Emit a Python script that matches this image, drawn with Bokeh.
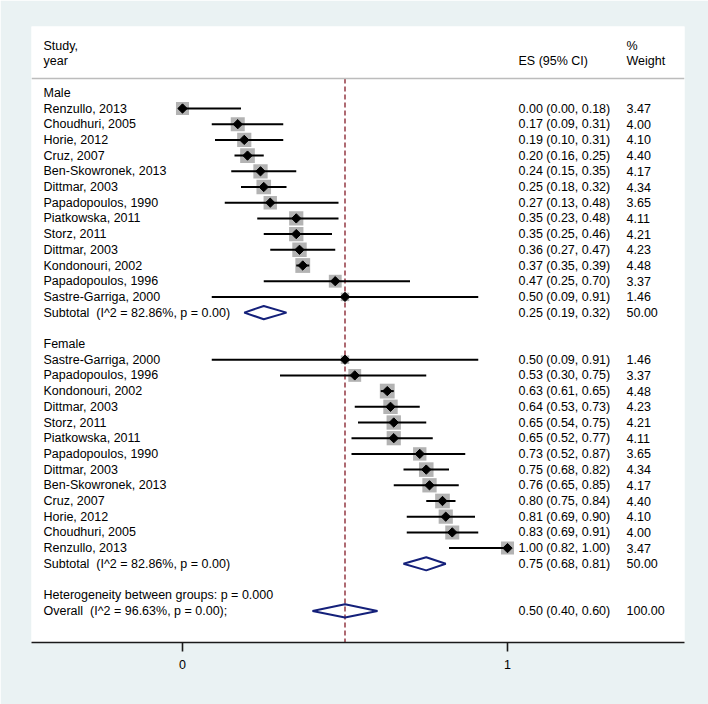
import numpy as np
from bokeh.plotting import figure
from bokeh.models import Range1d, FixedTicker, Span, ColumnDataSource
from bokeh.core.properties import value
from bokeh.embed import file_html
from bokeh.resources import INLINE

# ---------------- data ----------------
male_studies = ["Renzullo, 2013", "Choudhuri, 2005", "Horie, 2012", "Cruz, 2007",
                "Ben-Skowronek, 2013", "Dittmar, 2003", "Papadopoulos, 1990",
                "Piatkowska, 2011", "Storz, 2011", "Dittmar, 2003",
                "Kondonouri, 2002", "Papadopoulos, 1996", "Sastre-Garriga, 2000"]
male_es = [0.00, 0.17, 0.19, 0.20, 0.24, 0.25, 0.27, 0.35, 0.35, 0.36, 0.37, 0.47, 0.50]
male_lo = [0.00, 0.09, 0.10, 0.16, 0.15, 0.18, 0.13, 0.23, 0.25, 0.27, 0.35, 0.25, 0.09]
male_hi = [0.18, 0.31, 0.31, 0.25, 0.35, 0.32, 0.48, 0.48, 0.46, 0.47, 0.39, 0.70, 0.91]
male_w = [3.47, 4.00, 4.10, 4.40, 4.17, 4.34, 3.65, 4.11, 4.21, 4.23, 4.48, 3.37, 1.46]
male_sub = (0.25, 0.19, 0.32, 50.00)
male_sub_label = "Subtotal\u00a0 (I^2 = 82.86%, p = 0.00)"

female_studies = ["Sastre-Garriga, 2000", "Papadopoulos, 1996", "Kondonouri, 2002",
                  "Dittmar, 2003", "Storz, 2011", "Piatkowska, 2011",
                  "Papadopoulos, 1990", "Dittmar, 2003", "Ben-Skowronek, 2013",
                  "Cruz, 2007", "Horie, 2012", "Choudhuri, 2005", "Renzullo, 2013"]
female_es = [0.50, 0.53, 0.63, 0.64, 0.65, 0.65, 0.73, 0.75, 0.76, 0.80, 0.81, 0.83, 1.00]
female_lo = [0.09, 0.30, 0.61, 0.53, 0.54, 0.52, 0.52, 0.68, 0.65, 0.75, 0.69, 0.69, 0.82]
female_hi = [0.91, 0.75, 0.65, 0.73, 0.75, 0.77, 0.87, 0.82, 0.85, 0.84, 0.90, 0.91, 1.00]
female_w = [1.46, 3.37, 4.48, 4.23, 4.21, 4.11, 3.65, 4.34, 4.17, 4.40, 4.10, 4.00, 3.47]
female_sub = (0.75, 0.68, 0.81, 50.00)
female_sub_label = "Subtotal\u00a0 (I^2 = 82.86%, p = 0.00)"

overall = (0.50, 0.40, 0.60, 100.00)
overall_label = "Overall\u00a0 (I^2 = 96.63%, p = 0.00);"
hetero_label = "Heterogeneity between groups: p = 0.000"
x_ticks = [0, 1]

# ---------------- layout helpers ----------------
BG = "#eaf2f3"
NAVY = "#14207a"
FONT = value("Liberation Sans")
FS = "12.5px"
W, H = 708, 704

X0_PX, X1_PX = 182.0, 507.0          # page px of x=0 and x=1
LEFT_PX, RIGHT_PX = 31.0, 684.0      # frame edges on page
def px2x(px):
    return (px - X0_PX) / (X1_PX - X0_PX)

ROW0_PX, ROW_H = 108.0, 15.7         # page y of row 0 and row pitch
TOP_PX, BOT_PX = 26.0, 642.0
def py2row(py):
    return (py - ROW0_PX) / ROW_H

p = figure(width=W, height=H, output_backend="svg", toolbar_location=None,
           x_range=Range1d(px2x(LEFT_PX), px2x(RIGHT_PX)),
           y_range=Range1d(py2row(BOT_PX), py2row(TOP_PX)),
           y_axis_location=None,
           min_border_left=int(LEFT_PX), min_border_right=W - int(RIGHT_PX),
           min_border_top=int(TOP_PX), min_border_bottom=H - int(BOT_PX))
p.background_fill_color = "white"
p.border_fill_color = BG
p.outline_line_color = None
p.xgrid.visible = False
p.ygrid.visible = False

ax = p.xaxis[0]
ax.ticker = FixedTicker(ticks=x_ticks)
ax.axis_line_color = "#1a1a1a"
ax.axis_line_width = 1.6
ax.major_tick_line_color = "#1a1a1a"
ax.major_tick_line_width = 1.6
ax.major_tick_out = 9
ax.major_tick_in = 0
ax.minor_tick_out = 0
ax.minor_tick_in = 0
ax.major_label_standoff = 8
ax.major_label_text_font = "Liberation Sans"
ax.major_label_text_font_size = FS
ax.major_label_text_color = "black"

# ---------------- rows ----------------
study_rows = []  # (row, name, es, lo, hi, w)
label_rows = []  # (row, text)
sub_rows = []    # (row, label, es, lo, hi, w)

label_rows.append((-1, "Male"))
for k in range(len(male_studies)):
    study_rows.append((k, male_studies[k], male_es[k], male_lo[k], male_hi[k], male_w[k]))
r = len(male_studies)
sub_rows.append((r, male_sub_label) + male_sub)
r += 2
label_rows.append((r, "Female"))
r += 1
for k in range(len(female_studies)):
    study_rows.append((r + k, female_studies[k], female_es[k], female_lo[k], female_hi[k], female_w[k]))
r += len(female_studies)
sub_rows.append((r, female_sub_label) + female_sub)
r += 2
label_rows.append((r, hetero_label))
r += 1
sub_rows.append((r, overall_label) + overall)

# header separator
sep_row = py2row(78)
p.add_layout(Span(location=sep_row, dimension="width", line_color="#bcbcbc", line_width=1.5))

# reference (overall) dashed line
p.segment(x0=[overall[0]], y0=[sep_row], x1=[overall[0]], y1=[py2row(BOT_PX)],
          line_color="#8c2a35", line_width=1.4, line_dash="5 3")

# study marks
src = ColumnDataSource(dict(
    y=[s[0] for s in study_rows],
    es=[s[2] for s in study_rows],
    lo=[s[3] for s in study_rows],
    hi=[s[4] for s in study_rows],
    box=[7.0 * np.sqrt(s[5]) for s in study_rows],
))
p.rect(x="es", y="y", width="box", height="box", width_units="screen",
       height_units="screen", source=src, fill_color="#b3b3b3", line_color=None)
p.segment(x0="lo", y0="y", x1="hi", y1="y", source=src, line_color="black", line_width=2)
p.scatter(x="es", y="y", source=src, marker="square", size=6.6, angle=np.pi / 4,
          fill_color="black", line_color="black")

# pooled diamonds
h = 0.42
for row, lab, es, lo, hi, w in sub_rows:
    p.patch([lo, es, hi, es], [row, row - h, row, row + h], fill_color=None,
            line_color=NAVY, line_width=2)

# ---------------- texts ----------------
xl, xes, xw = px2x(43), px2x(518), px2x(626)
left_txt = [(-3.95, "Study,"), (-3.0, "year")] + label_rows \
    + [(s[0], s[1]) for s in study_rows] + [(s[0], s[1]) for s in sub_rows]
p.text(x=[xl] * len(left_txt), y=[t[0] for t in left_txt], text=[t[1] for t in left_txt],
       text_font=FONT, text_font_size=FS, text_baseline="middle", text_color="black")

all_est = [(s[0], s[2], s[3], s[4], s[5]) for s in study_rows] + \
          [(s[0], s[2], s[3], s[4], s[5]) for s in sub_rows]
es_txt = [(-3.0, "ES (95% CI)")] + [(a[0], f"{a[1]:.2f} ({a[2]:.2f}, {a[3]:.2f})") for a in all_est]
w_txt = [(-3.95, "%"), (-3.0, "Weight")] + [(a[0], f"{a[4]:.2f}") for a in all_est]
p.text(x=[xes] * len(es_txt), y=[t[0] for t in es_txt], text=[t[1] for t in es_txt],
       text_font=FONT, text_font_size=FS, text_baseline="middle", text_color="black")
p.text(x=[xw] * len(w_txt), y=[t[0] for t in w_txt], text=[t[1] for t in w_txt],
       text_font=FONT, text_font_size=FS, text_baseline="middle", text_color="black")

html = file_html(p, INLINE)
open("out.html", "w").write(html)
